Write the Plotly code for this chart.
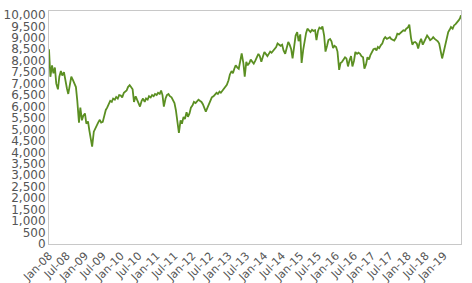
import pandas as pd
import plotly.graph_objects as go

# semi-monthly readings (1st and 15th of each month), Jan 2008 .. Jun 2019
v2008 = [8500, 7300, 7800, 7450, 7700, 7000, 6750, 7300, 7550, 7350, 7500, 7100,
         6800, 6550, 6900, 7300, 7150, 7000, 6850, 6250, 5300, 5950, 5400, 5600]
v2009 = [5700, 5250, 5350, 4950, 4600, 4250, 4900, 5050, 5150, 5300, 5420, 5300,
         5330, 5600, 5850, 5950, 6150, 6250, 6200, 6350, 6300, 6420, 6350, 6500]
v2010 = [6480, 6400, 6600, 6650, 6700, 6850, 6930, 6850, 6750, 6200, 6450, 6300,
         6100, 6000, 6250, 6350, 6200, 6350, 6300, 6450, 6400, 6500, 6450, 6550]
v2011 = [6500, 6600, 6550, 6700, 6500, 6000, 6350, 6500, 6550, 6450, 6400, 6280,
         6150, 5850, 5300, 4850, 5400, 5250, 5550, 5450, 5750, 5550, 5700, 5950]
v2012 = [6050, 6200, 6150, 6250, 6300, 6250, 6200, 6100, 5950, 5780, 5950, 6120,
         6250, 6400, 6450, 6500, 6600, 6550, 6650, 6600, 6700, 6750, 6850, 6950]
v2013 = [7150, 7400, 7550, 7450, 7650, 7800, 7700, 7650, 8000, 8320, 7900, 7300,
         7950, 7800, 7900, 8050, 7950, 7870, 8000, 8150, 8300, 8200, 7950, 8150]
v2014 = [8380, 8300, 8200, 8300, 8400, 8350, 8450, 8550, 8600, 8750, 8700, 8650,
         8700, 8450, 8300, 8550, 8820, 8700, 8500, 8100, 8700, 9100, 9250, 8850]
v2015 = [9150, 7900, 8500, 8900, 9200, 9400, 9300, 9250, 9350, 9300, 9330, 8900,
         9300, 9450, 9400, 9500, 9100, 8400, 8650, 8900, 8950, 8850, 8550, 8650]
v2016 = [8600, 8400, 7600, 7900, 7950, 8050, 8150, 8100, 7750, 8000, 8200, 7750,
         8000, 8380, 8300, 8350, 8300, 8200, 8150, 7650, 7850, 8150, 8050, 8250]
v2017 = [8400, 8500, 8530, 8450, 8600, 8550, 8680, 8750, 8950, 9030, 8950, 8980,
         9030, 8950, 8900, 8880, 9000, 9180, 9150, 9200, 9250, 9330, 9300, 9400]
v2018 = [9450, 9575, 9000, 8700, 8800, 8820, 8750, 8530, 8800, 8960, 8700, 8850,
         8950, 9100, 9000, 8900, 8950, 9030, 8950, 8900, 8850, 8750, 8450, 8100]
v2019 = [8400, 8700, 9050, 9250, 9350, 9470, 9400, 9540, 9600, 9700, 9760, 9850]
last_date = "2019-06-25"
last_value = 9980

values = v2008 + v2009 + v2010 + v2011 + v2012 + v2013 + v2014 + v2015 + v2016 + v2017 + v2018 + v2019 + [last_value]
dates = list(pd.date_range("2008-01-01", periods=len(values) - 1, freq="SMS")) + [pd.Timestamp(last_date)]

fig = go.Figure(go.Scatter(x=dates, y=values, mode="lines",
                           line=dict(color="#5B8F22", width=1.8)))

font_col = "#555555"
fig.update_layout(
    width=472, height=283,
    margin=dict(l=49, r=11, t=11, b=39, autoexpand=False),
    paper_bgcolor="white", plot_bgcolor="white",
    showlegend=False,
    font=dict(family="DejaVu Sans", size=12, color=font_col),
)
fig.update_xaxes(
    range=[pd.Timestamp("2008-01-01"), pd.Timestamp(last_date)],
    tickformat="%b-%y", dtick="M6", tick0="2008-01-01", tickangle=-45,
    tickfont=dict(size=11, color=font_col), automargin=False,
    showgrid=False, zeroline=False,
    showline=True, linecolor="#c8c8c8", linewidth=1, mirror=True,
)
fig.update_yaxes(
    range=[0, 10170], dtick=500, tick0=0, tickformat=",",
    tickfont=dict(size=12, color=font_col), automargin=False,
    showgrid=False, zeroline=False,
    showline=True, linecolor="#c8c8c8", linewidth=1, mirror=True,
    ticks="outside", ticklen=0,
)
fig.write_html("out.html")
